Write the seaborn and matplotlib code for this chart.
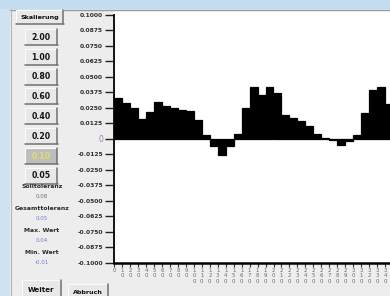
import matplotlib
matplotlib.use("Agg")
import matplotlib.pyplot as plt
import seaborn as sns
import pandas as pd
from matplotlib.patches import Rectangle
from matplotlib.lines import Line2D

# ---------------- data ----------------
positions = list(range(0, 350, 10))  # 35 bars (one per tick step)
values = [0.0330, 0.0290, 0.0247, 0.0158, 0.0215, 0.0296, 0.0266, 0.0253, 0.0234, 0.0223,
          0.0155, 0.0035, -0.0060, -0.0130, -0.0060, 0.0043, 0.0247, 0.0416, 0.0353, 0.0420,
          0.0367, 0.0193, 0.0166, 0.0141, 0.0103, 0.0043, 0.0010, -0.0010, -0.0046, -0.0020,
          0.0030, 0.0207, 0.0394, 0.0420, 0.0280]
ytick_values = [0.1, 0.0875, 0.075, 0.0625, 0.05, 0.0375, 0.025, 0.0125, 0.0,
                -0.0125, -0.025, -0.0375, -0.05, -0.0625, -0.075, -0.0875, -0.1]
ytick_labels = ["0.1000", "0.0875", "0.0750", "0.0625", "0.0500", "0.0375", "0.0250", "0.0125", "0",
                "-0.0125", "-0.0250", "-0.0375", "-0.0500", "-0.0625", "-0.0750", "-0.0875", "-0.1000"]
xtick_labels = [str(v) for v in range(0, 350, 10)]  # 35 visible ticks
scale_buttons = ["2.00", "1.00", "0.80", "0.60", "0.40", "0.20", "0.10", "0.05"]
info_names = ["Solltoleranz", "Gesamttoleranz", "Max. Wert", "Min. Wert"]
info_values = ["0.08", "0.05", "0.04", "-0.01"]
info_colors = ["#707070", "#6f7fd8", "#6f7fd8", "#6f7fd8"]

# ---------------- figure ----------------
W, H = 390, 296
sns.set_style("white")
plt.rcParams['font.family'] = ['DejaVu Sans']
fig = plt.figure(figsize=(W / 100, H / 100), dpi=100)
fig.patch.set_facecolor("#cde3f4")


def fx(x):
    return x / W


def fy(y):
    return 1 - y / H


def frect(x0, y0, x1, y1, **kw):
    r = Rectangle((fx(x0), fy(y1)), fx(x1) - fx(x0), fy(y0) - fy(y1),
                  transform=fig.transFigure, **kw)
    fig.add_artist(r)
    return r


def fline(x0, y0, x1, y1, **kw):
    l = Line2D([fx(x0), fx(x1)], [fy(y0), fy(y1)], transform=fig.transFigure, **kw)
    fig.add_artist(l)


# top strip
frect(0, 0, W, 9, facecolor="#c3dcf0", edgecolor="none", zorder=0)
# panel
frect(10, 9, W + 2, H + 2, facecolor="#ededed", edgecolor="none", zorder=0)
fline(10, 9.5, W, 9.5, color="#9a9a9a", lw=1.0, zorder=1)
fline(10.5, 9, 10.5, H, color="#b5b5b5", lw=0.8, zorder=1)
# white plot background
frect(113, 11, W + 2, 263, facecolor="white", edgecolor="none", zorder=0)


def button(x0, y0, x1, y1, text, face="#e8e8e8", tcolor="#111111", fs=5.6):
    frect(x0, y0, x1, y1, facecolor=face, edgecolor="none", zorder=2)
    fline(x0, y0, x1, y0, color="#fafafa", lw=0.8, zorder=3)
    fline(x0, y0, x0, y1, color="#fafafa", lw=0.8, zorder=3)
    fline(x0, y1, x1 + 1, y1, color="#707070", lw=1.1, zorder=3)
    fline(x1, y0, x1, y1, color="#707070", lw=1.1, zorder=3)
    fig.text(fx((x0 + x1) / 2), fy((y0 + y1) / 2 + 0.3), text, ha="center", va="center",
             fontsize=fs, color=tcolor, fontweight="bold", zorder=4)


button(16, 10, 63, 24, "Skalierung", fs=4.6)
for i, lab in enumerate(scale_buttons):
    cy = 37 + i * 19.8
    if lab == "0.10":
        button(25, cy - 8, 57, cy + 8, lab, face="#bdbdbd", tcolor="#e6dc6a")
    else:
        button(25, cy - 8, 57, cy + 8, lab)

for i, (nm, vl, cl) in enumerate(zip(info_names, info_values, info_colors)):
    y0 = 186 + i * 22
    fig.text(fx(42), fy(y0), nm, ha="center", va="center", fontsize=4.4,
             fontweight="bold", color="#2a2a2a")
    fig.text(fx(42), fy(y0 + 10), vl, ha="center", va="center", fontsize=4.0, color=cl)

button(22, 280, 61, 300, "Weiter", fs=5.0)
button(68, 284, 108, 300, "Abbruch", fs=4.6)

# ---------------- chart ----------------
ax_left, ax_right = 114.3, 412.0
y_top, y_bot = 15.0, 262.7
ax = fig.add_axes([fx(ax_left), fy(y_bot), fx(ax_right) - fx(ax_left), (y_bot - y_top) / H])
ax.set_facecolor("none")

df = pd.DataFrame({"pos": positions, "value": values})
sns.barplot(data=df, x="pos", y="value", color="black", saturation=1, width=1.0,
            edgecolor="black", linewidth=0.9, ax=ax, zorder=2)

step_px = 7.96
ax.set_xlim(-0.5, -0.5 + (ax_right - ax_left) / step_px)
ax.set_ylim(-0.1, 0.1)
ax.set_xticks([i - 0.5 for i in range(len(xtick_labels))])
ax.set_xticklabels(["\n".join(s) for s in xtick_labels], fontsize=3.9, color="#6a6a6a",
                   linespacing=1.05)
ax.set_yticks(ytick_values)
ax.set_yticklabels(ytick_labels, fontsize=4.3, fontweight="bold", color="#2e2e2e")
for t in ax.get_yticklabels():
    if t.get_text() == "0":
        t.set_color("#a874bd")
        t.set_fontsize(5.5)
        t.set_fontweight("normal")

ax.set_xlabel("")
ax.set_ylabel("")
for s in ["top", "right"]:
    ax.spines[s].set_visible(False)
ax.spines["left"].set_linewidth(1.3)
ax.spines["left"].set_color("black")
ax.spines["bottom"].set_linewidth(1.8)
ax.spines["bottom"].set_color("black")
ax.tick_params(axis="y", length=6.5, width=1.0, pad=1.5, color="#222222", left=True)
ax.tick_params(axis="x", length=3.0, width=0.8, pad=1.0, color="#333333", bottom=True)

fig.savefig("out.png", dpi=100, facecolor=fig.get_facecolor())
